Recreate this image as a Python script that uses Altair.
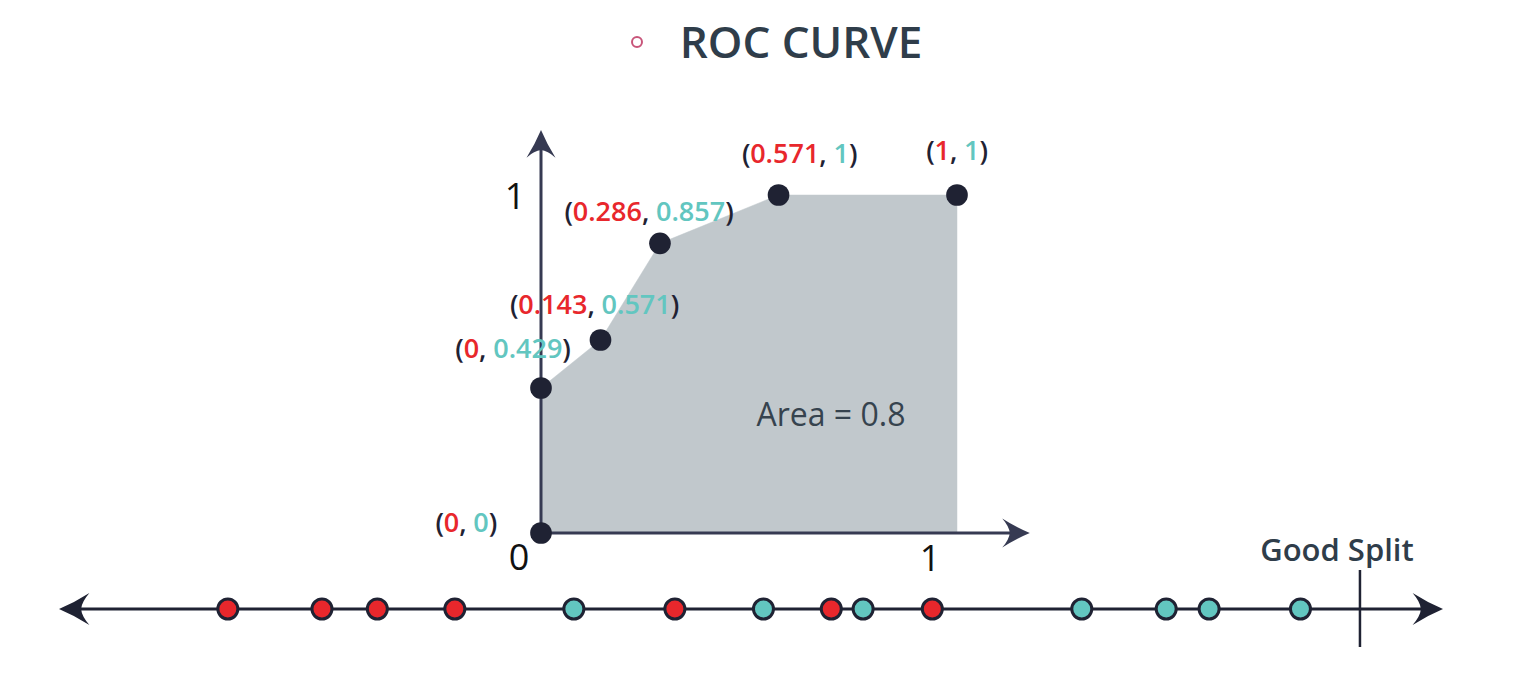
import altair as alt
import pandas as pd

# ---------------- data ----------------
# ROC curve points (false positive rate, true positive rate)
fpr = [0, 0, 0.143, 0.286, 0.571, 1]
tpr = [0, 0.429, 0.571, 0.857, 1, 1]
fpr_text = ["0", "0", "0.143", "0.286", "0.571", "1"]
tpr_text = ["0", "0.429", "0.571", "0.857", "1", "1"]

# points on the number line below (score along the line, class)
scores = [12.2, 19.0, 23.0, 28.6, 37.2, 44.5, 50.9, 55.8, 58.1, 63.1, 73.9, 80.0, 83.1, 89.7]
classes = ["negative", "negative", "negative", "negative", "positive", "negative", "positive",
           "negative", "positive", "negative", "positive", "positive", "positive", "positive"]
split_score = 94.0

title_text = "ROC CURVE"
area_text = "Area = 0.8"
split_text = "Good Split"
tick_text = ["0", "1", "1"]  # origin, x = 1, y = 1
area_label_at = (0.697, 0.346)

# ---------------- style ----------------
FONT = "Open Sans"
DARK = "#1f2233"
AXIS = "#363a52"
RED = "#e8272c"
TEAL = "#62c6c0"
GRAY = "#c1c8cc"
SLATE = "#2f3d4a"
PINK = "#c8557a"

W, H = 1508, 650
ROC_X = [533, 949]
ROC_Y = [525, 187]
XPU = ROC_X[1] - ROC_X[0]
YPU = ROC_Y[0] - ROC_Y[1]
LINE_X = [51, 1435]
LINE_Y = 601

ARROW = "M0,0 Q-1.0,-0.42 -1.9,-1 Q-1.42,-0.45 -1.38,0 Q-1.42,0.45 -1.9,1 Q-1.0,0.42 0,0 Z"

# label nudges in pixels (dx, dy, anchor)
LABEL_NUDGE = [(-44, -9, "right"), (-28, -38, "center"), (-6, -34, "center"),
               (-11, -30, "center"), (21, -40, "center"), (0, -43, "center")]
LABEL_SIZE = 27
CW = {".": 0.274, ",": 0.263, " ": 0.26, "(": 0.306, ")": 0.306}


def tw(s):
    return sum(CW.get(ch, 0.572) for ch in s) * LABEL_SIZE


rx = alt.Scale(domain=[0, 1], range=ROC_X, nice=False, zero=False)
ry = alt.Scale(domain=[0, 1], range=ROC_Y, nice=False, zero=False)
nx = alt.Scale(domain=[0, 100], range=LINE_X, nice=False, zero=False)

one = pd.DataFrame({"k": [0]})
roc = pd.DataFrame({"fpr": fpr, "tpr": tpr, "idx": list(range(len(fpr)))})

# closed outline of the area under the curve (curve points, then back along the baseline)
poly = pd.DataFrame({
    "fpr": fpr + [fpr[-1], fpr[0]],
    "tpr": tpr + [0.0, 0.0],
    "idx": list(range(len(fpr) + 2)),
})

# ---------------- ROC panel ----------------
area = alt.Chart(poly).mark_line(fill=GRAY, stroke=GRAY, strokeWidth=0.5, opacity=1,
                                 fillOpacity=1).encode(
    x=alt.X("fpr:Q", scale=rx, axis=None),
    y=alt.Y("tpr:Q", scale=ry, axis=None),
    order=alt.Order("idx:Q"),
)

yaxis = alt.Chart(one).mark_rule(color=AXIS, strokeWidth=3).encode(
    x=alt.X(datum=0, scale=rx, axis=None),
    y=alt.Y(datum=-0.005, scale=ry, axis=None),
    y2=alt.Y2(datum=1.14),
)
xaxis = alt.Chart(one).mark_rule(color=AXIS, strokeWidth=3).encode(
    x=alt.X(datum=-0.003, scale=rx, axis=None),
    x2=alt.X2(datum=1.135),
    y=alt.Y(datum=0, scale=ry, axis=None),
)
yarrow = alt.Chart(one).mark_point(shape=ARROW, filled=True, color=AXIS, opacity=1,
                                    size=841, angle=270, strokeWidth=0).encode(
    x=alt.X(datum=0, scale=rx, axis=None),
    y=alt.Y(datum=1.192, scale=ry, axis=None),
)
xarrow = alt.Chart(one).mark_point(shape=ARROW, filled=True, color=AXIS, opacity=1,
                                    size=841, angle=0, strokeWidth=0).encode(
    x=alt.X(datum=1.175, scale=rx, axis=None),
    y=alt.Y(datum=0, scale=ry, axis=None),
)

tick_kw = dict(fontSize=36, font=FONT, color="#111111", align="center", baseline="middle")
tick0 = alt.Chart(one).mark_text(text=tick_text[0], dx=-22, dy=26, **tick_kw).encode(
    x=alt.X(datum=0, scale=rx, axis=None), y=alt.Y(datum=0, scale=ry, axis=None))
tickx = alt.Chart(one).mark_text(text=tick_text[1], dx=-27, dy=27, **tick_kw).encode(
    x=alt.X(datum=1, scale=rx, axis=None), y=alt.Y(datum=0, scale=ry, axis=None))
ticky = alt.Chart(one).mark_text(text=tick_text[2], dx=-26, dy=3, **tick_kw).encode(
    x=alt.X(datum=0, scale=rx, axis=None), y=alt.Y(datum=1, scale=ry, axis=None))

area_lbl = alt.Chart(one).mark_text(text=area_text, fontSize=32, font=FONT, color="#36434e",
                                    align="center", baseline="middle").encode(
    x=alt.X(datum=area_label_at[0], scale=rx, axis=None),
    y=alt.Y(datum=area_label_at[1], scale=ry, axis=None),
)

dots = alt.Chart(roc).mark_circle(size=470, color=DARK, opacity=1).encode(
    x=alt.X("fpr:Q", scale=rx, axis=None),
    y=alt.Y("tpr:Q", scale=ry, axis=None),
)

rows = []
for i in range(len(fpr)):
    pieces = [("(", DARK), (fpr_text[i], RED), (", ", DARK), (tpr_text[i], TEAL), (")", DARK)]
    widths = [tw(p) for p, _ in pieces]
    total = sum(widths)
    ndx, ndy, anchor = LABEL_NUDGE[i]
    cum = ndx - (total if anchor == "right" else total / 2)
    for (s, c), w in zip(pieces, widths):
        rows.append({"x": fpr[i] + cum / XPU, "y": tpr[i] - ndy / YPU, "t": s, "c": c})
        cum += w
lab = pd.DataFrame(rows)

labels = alt.Chart(lab).mark_text(fontSize=LABEL_SIZE, font=FONT, fontWeight=600,
                                  align="left", baseline="middle").encode(
    x=alt.X("x:Q", scale=rx, axis=None),
    y=alt.Y("y:Q", scale=ry, axis=None),
    text="t:N",
    color=alt.Color("c:N", scale=None),
)

# ---------------- number line ----------------
nline = alt.Chart(one).mark_rule(color=DARK, strokeWidth=3).encode(
    x=alt.X(datum=1, scale=nx, axis=None), x2=alt.X2(datum=99), y=alt.value(LINE_Y))
larrow = alt.Chart(one).mark_point(shape=ARROW, filled=True, color=DARK, opacity=1,
                                    size=1024, angle=180, strokeWidth=0).encode(
    x=alt.X(datum=0, scale=nx, axis=None), y=alt.value(LINE_Y))
rarrow = alt.Chart(one).mark_point(shape=ARROW, filled=True, color=DARK, opacity=1,
                                    size=1024, angle=0, strokeWidth=0).encode(
    x=alt.X(datum=100, scale=nx, axis=None), y=alt.value(LINE_Y))
split = alt.Chart(one).mark_rule(color=DARK, strokeWidth=2.5).encode(
    x=alt.X(datum=split_score, scale=nx, axis=None), y=alt.value(562), y2=alt.value(639))
split_lbl = alt.Chart(one).mark_text(text=split_text, fontSize=31, font=FONT, fontWeight=600,
                                     color=SLATE, align="center", baseline="alphabetic", dx=-23).encode(
    x=alt.X(datum=split_score, scale=nx, axis=None), y=alt.value(553))

nl = pd.DataFrame({"score": scores, "cls": classes})
npts = alt.Chart(nl).mark_circle(size=400, stroke=DARK, strokeWidth=3, opacity=1).encode(
    x=alt.X("score:Q", scale=nx, axis=None),
    y=alt.value(LINE_Y),
    fill=alt.Fill("cls:N", scale=alt.Scale(domain=["negative", "positive"], range=[RED, TEAL]),
                  legend=None),
)

# ---------------- title ----------------
title = alt.Chart(one).mark_text(text=title_text, fontSize=44, font=FONT, fontWeight=600,
                                 color=SLATE, align="center", baseline="alphabetic").encode(
    x=alt.value(793), y=alt.value(50))
bullet = alt.Chart(one).mark_point(shape="circle", size=100, filled=False, color=PINK,
                                   strokeWidth=2, opacity=1).encode(
    x=alt.value(629), y=alt.value(34))

chart = alt.layer(
    area, xaxis, yaxis, xarrow, yarrow, tick0, tickx, ticky, area_lbl, dots, labels,
    nline, larrow, rarrow, split, split_lbl, npts, title, bullet,
).resolve_scale(x="independent", y="independent").properties(
    width=W, height=H, padding=0, autosize=alt.AutoSizeParams(type="none"),
).configure_view(stroke=None)

chart.save("out.html", embed_options={"renderer": "svg", "actions": False})
